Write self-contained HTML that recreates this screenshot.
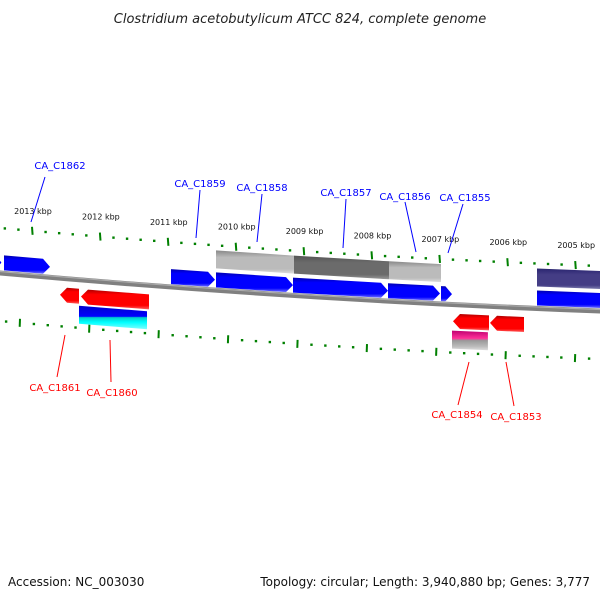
<!DOCTYPE html>
<html><head><meta charset="utf-8"><style>
html,body{margin:0;padding:0;background:#fff;}
svg{display:block;font-family:"DejaVu Sans","Liberation Sans",sans-serif;}
</style></head><body>
<svg id="map" width="600" height="600" viewBox="0 0 600 600">
<defs>
<linearGradient id="gBlue" x1="0" y1="0" x2="0" y2="1"><stop offset="0" stop-color="#0000b0"/><stop offset="0.25" stop-color="#0000ff"/><stop offset="0.8" stop-color="#0000ff"/><stop offset="1" stop-color="#7070ff"/></linearGradient>
<linearGradient id="gRed" x1="0" y1="0" x2="0" y2="1"><stop offset="0" stop-color="#b00000"/><stop offset="0.25" stop-color="#ff0000"/><stop offset="0.8" stop-color="#ff0000"/><stop offset="1" stop-color="#ff6060"/></linearGradient>
<linearGradient id="gLight" x1="0" y1="0" x2="0" y2="1"><stop offset="0" stop-color="#888"/><stop offset="0.3" stop-color="#bbb"/><stop offset="0.8" stop-color="#bbb"/><stop offset="1" stop-color="#ddd"/></linearGradient>
<linearGradient id="gDark" x1="0" y1="0" x2="0" y2="1"><stop offset="0" stop-color="#555"/><stop offset="0.3" stop-color="#6b6b6b"/><stop offset="0.8" stop-color="#6b6b6b"/><stop offset="1" stop-color="#999"/></linearGradient>
<linearGradient id="gNavy" x1="0" y1="0" x2="0" y2="1"><stop offset="0" stop-color="#2a2570"/><stop offset="0.3" stop-color="#443d85"/><stop offset="0.8" stop-color="#443d85"/><stop offset="1" stop-color="#8080b0"/></linearGradient>
<linearGradient id="gBC" x1="0" y1="0" x2="0" y2="1"><stop offset="0" stop-color="#0000cc"/><stop offset="0.45" stop-color="#0000ff"/><stop offset="0.5" stop-color="#00cccc"/><stop offset="0.7" stop-color="#00ffff"/><stop offset="1" stop-color="#80ffff"/></linearGradient>
<linearGradient id="gPG" x1="0" y1="0" x2="0" y2="1"><stop offset="0" stop-color="#c00070"/><stop offset="0.4" stop-color="#ff3399"/><stop offset="0.5" stop-color="#999"/><stop offset="0.8" stop-color="#bbb"/><stop offset="1" stop-color="#ddd"/></linearGradient>
<linearGradient id="gBack" x1="0" y1="0" x2="0" y2="1"><stop offset="0" stop-color="#bbb"/><stop offset="0.5" stop-color="#777"/><stop offset="1" stop-color="#999"/></linearGradient>
</defs>
<text x="300" y="23" text-anchor="middle" font-size="13" font-style="italic" fill="#222">Clostridium acetobutylicum ATCC 824, complete genome</text>
<text x="8" y="586" font-size="12" fill="#111">Accession: NC_003030</text>
<text x="590" y="586" font-size="12" fill="#111" text-anchor="end">Topology: circular; Length: 3,940,880 bp; Genes: 3,777</text>
<g id="layer"></g>
</svg>
<script>
// Data (positions in kbp)
const majorTicks = [2013, 2012, 2011, 2010, 2009, 2008, 2007, 2006, 2005];
const tickLabels = ["2013 kbp","2012 kbp","2011 kbp","2010 kbp","2009 kbp","2008 kbp","2007 kbp","2006 kbp","2005 kbp"];
const fwdStarts = [2013.60, 2013.412, 2010.953, 2010.290, 2009.156, 2007.757, 2006.976, 2005.563];
const fwdEnds   = [2013.45, 2012.735, 2010.305, 2009.156, 2007.757, 2006.991, 2006.814, 2004.50];
const revStarts = [2012.588, 2012.278, 2006.800, 2006.255];
const revEnds   = [2012.308, 2011.277, 2006.270, 2005.754];
const featStarts = [2010.290, 2009.141, 2007.742, 2005.563];
const featEnds   = [2009.141, 2007.742, 2006.976, 2004.50];
const featKinds  = ["light","dark","light","navy"];
const lowStarts = [2012.308, 2006.814];
const lowEnds   = [2011.306, 2006.285];
const lowKinds  = ["bc","pg"];
const fwdLabels = ["CA_C1862","CA_C1859","CA_C1858","CA_C1857","CA_C1856","CA_C1855"];
const revLabels = ["CA_C1861","CA_C1860","CA_C1854","CA_C1853"];

const NS="http://www.w3.org/2000/svg";
const layer=document.getElementById('layer');
function X(k){return 32+(2013-k)*67.9;}
function XL(k){return 20+(2013-k)*69.4;}
function Y(x){return 273+0.09*x-4.44e-5*x*x;}
function mk(tag,attrs){const e=document.createElementNS(NS,tag);for(const a in attrs)e.setAttribute(a,attrs[a]);layer.appendChild(e);return e;}

// backbone
const bb=mk('path',{d:'M-10 '+(Y(-10))+' Q300 300 610 '+Y(610),fill:'none',stroke:'url(#gBack)','stroke-width':5});


{ // stroke gradient fallback: draw lines
  bb.setAttribute('stroke','#808080');
  const hl=mk('path',{d:'M-10 '+(Y(-10)-1.5)+' Q300 298.5 610 '+(Y(610)-1.5),fill:'none',stroke:'#aaa','stroke-width':1.2});
  
  
}

// ticks
for(let k=2014; k>=2004; k-=0.2){
  const kk=Math.round(k*10)/10;
  const isMajor=Math.abs(kk-Math.round(kk))<0.01;
  const xu=X(kk), yu=Y(xu)-45;
  if(xu>-5&&xu<605){
    const t=mk('line',{x1:xu,y1:yu-(isMajor?4:1.2),x2:xu+(isMajor?0.6:0),y2:yu+(isMajor?4:1.2),stroke:'#008000','stroke-width':isMajor?2:2.4});
    
    
  }
  const xl=XL(kk), yl=Y(xl)+48;
  if(xl>-5&&xl<605){
    const t=mk('line',{x1:xl,y1:yl-(isMajor?4:1.2),x2:xl-(isMajor?0.3:0),y2:yl+(isMajor?4:1.2),stroke:'#008000','stroke-width':isMajor?2:2.4});
    
    
  }
}
majorTicks.forEach((k,i)=>{
  const x=X(k);
  const t=mk('text',{x:x+1,y:Y(x)-62,'font-size':8,fill:'#111','text-anchor':'middle'});
  t.textContent=tickLabels[i];
  
  
});

function arrowPoly(x1,x2,o1,o2,dir,head){
  // dir 1 = point right, -1 = point left
  const m=(o1+o2)/2;
  if(dir>0){
    const h=Math.min(head,(x2-x1)*0.6);
    return [[x1,Y(x1)+o1],[x2-h,Y(x2-h)+o1],[x2,Y(x2)+m],[x2-h,Y(x2-h)+o2],[x1,Y(x1)+o2]];
  } else {
    const h=Math.min(head,(x2-x1)*0.6);
    return [[x1,Y(x1)+m],[x1+h,Y(x1+h)+o1],[x2,Y(x2)+o1],[x2,Y(x2)+o2],[x1+h,Y(x1+h)+o2]];
  }
}
function poly(pts,fill,name){
  const p=mk('polygon',{points:pts.map(p=>p[0].toFixed(1)+','+p[1].toFixed(1)).join(' '),fill:fill});
  
  
  return p;
}
function rectBand(x1,x2,o1,o2){return [[x1,Y(x1)+o1],[x2,Y(x2)+o1],[x2,Y(x2)+o2],[x1,Y(x1)+o2]];}

const kindFill={light:'url(#gLight)',dark:'url(#gDark)',navy:'url(#gNavy)',bc:'url(#gBC)',pg:'url(#gPG)'};
featStarts.forEach((s,i)=>{
  const x1=X(s),x2=X(featEnds[i]);
  poly(rectBand(x1,x2,-40,-22),kindFill[featKinds[i]],'feature-band');
});
lowStarts.forEach((s,i)=>{
  const x1=X(s),x2=X(lowEnds[i]);
  poly(rectBand(x1,x2,26,44),kindFill[lowKinds[i]],'feature-band-lower');
});
fwdStarts.forEach((s,i)=>{
  const x1=X(s),x2=X(fwdEnds[i]);
  poly(arrowPoly(x1,x2,-18,-3,1,7),'url(#gBlue)','forward-gene');
});
revStarts.forEach((s,i)=>{
  const x1=X(s),x2=X(revEnds[i]);
  poly(arrowPoly(x1,x2,9,24,-1,7),'url(#gRed)','reverse-gene');
});

// labels (callout layout)
const fwdLab=[[60,169,45,177,31,222],[200,187,200,190,196,238],[262,191,262,194,257,242],[346,196,346,199,343,248],[405,200,405,202,416,252],[465,201,463,204,448,253]];
fwdLabels.forEach((n,i)=>{
  const L=fwdLab[i];
  const l=mk('line',{x1:L[2],y1:L[3],x2:L[4],y2:L[5],stroke:'#0000ff','stroke-width':1});
  
  
  const t=mk('text',{x:L[0],y:L[1],'font-size':10,fill:'#0000ff','text-anchor':'middle'});
  t.textContent=n;
  
  
});
const revLab=[[55,391,65,335,57,377],[112,396,110,340,111,382],[457,418,469,362,458,405],[516,420,506,362,514,406]];
revLabels.forEach((n,i)=>{
  const L=revLab[i];
  const l=mk('line',{x1:L[2],y1:L[3],x2:L[4],y2:L[5],stroke:'#ff0000','stroke-width':1});
  
  
  const t=mk('text',{x:L[0],y:L[1],'font-size':10,fill:'#ff0000','text-anchor':'middle'});
  t.textContent=n;
  
  
});
</script>
</body></html>
